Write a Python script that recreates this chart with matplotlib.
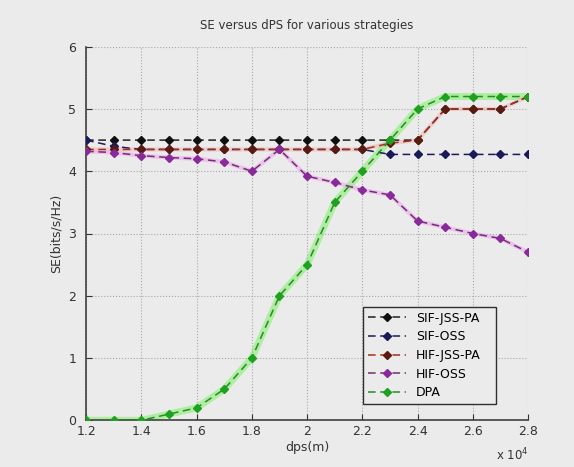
import matplotlib.pyplot as plt
import numpy as np

# dps in units of 1e4 m
dps = [1.2, 1.3, 1.4, 1.5, 1.6, 1.7, 1.8, 1.9, 2.0, 2.1, 2.2, 2.3, 2.4, 2.5, 2.6, 2.7, 2.8]

sif_jss_pa = [4.5, 4.5, 4.5, 4.5, 4.5, 4.5, 4.5, 4.5, 4.5, 4.5, 4.5, 4.5, 4.5, 5.0, 5.0, 5.0, 5.2]
sif_oss = [4.5, 4.4, 4.35, 4.35, 4.35, 4.35, 4.35, 4.35, 4.35, 4.35, 4.35, 4.27, 4.27, 4.27, 4.27, 4.27, 4.27]
hif_jss_pa = [4.35, 4.35, 4.35, 4.35, 4.35, 4.35, 4.35, 4.35, 4.35, 4.35, 4.35, 4.45, 4.5, 5.0, 5.0, 5.0, 5.2]
hif_oss = [4.32, 4.3, 4.25, 4.22, 4.2, 4.15, 4.0, 4.35, 3.92, 3.82, 3.7, 3.62, 3.2, 3.1, 3.0, 2.92, 2.7]
dpa = [0.0, 0.0, 0.0, 0.1, 0.2, 0.5, 1.0, 2.0, 2.5, 3.5, 4.0, 4.5, 5.0, 5.2, 5.2, 5.2, 5.2]

BG = '#ebebeb'

fig = plt.figure(figsize=(5.74, 4.67), dpi=100, facecolor=BG)
ax = fig.add_axes([0.15, 0.10, 0.77, 0.80], facecolor=BG)

# glow under the curves
ax.plot(dps, dpa, color='#9ef08e', lw=5, alpha=0.8, solid_capstyle='round', zorder=1)
ax.plot(dps, hif_oss, color='#f0a8f0', lw=3, alpha=0.6, zorder=1)
ax.plot(dps, hif_jss_pa, color='#f0b0a8', lw=3, alpha=0.5, zorder=1)

kw = dict(ls='--', lw=1.1, marker='D', ms=3.6, dashes=(5, 3), zorder=3)
ax.plot(dps, sif_jss_pa, color='#202020', mfc='#101010', mec='#101010', label='SIF-JSS-PA', **kw)
ax.plot(dps, sif_oss, color='#1a1a5a', mfc='#1a1a5a', mec='#1a1a5a', label='SIF-OSS', **kw)
ax.plot(dps, hif_jss_pa, color='#a03020', mfc='#5a1a10', mec='#5a1a10', label='HIF-JSS-PA', **kw)
ax.plot(dps, hif_oss, color='#703070', mfc='#8a2a9a', mec='#8a2a9a', label='HIF-OSS', **kw)
ax.plot(dps, dpa, color='#2a8a2a', mfc='#20a020', mec='#20a020', label='DPA', **kw)

ax.set_xlim(1.2, 2.8)
ax.set_ylim(0, 6)
ax.set_xticks(np.arange(1.2, 2.81, 0.2))
ax.set_xticklabels(['1.2', '1.4', '1.6', '1.8', '2', '2.2', '2.4', '2.6', '2.8'])
ax.set_yticks(range(7))
ax.tick_params(direction='in', labelsize=9, colors='#333333', length=4)
ax.tick_params(axis='y', pad=7)
ax.grid(True, ls=':', color='#a8a8a8', lw=0.8)

for s in ['top', 'right']:
    ax.spines[s].set_visible(False)
for s in ['left', 'bottom']:
    ax.spines[s].set_color('#404040')
    ax.spines[s].set_linewidth(1.2)

ax.set_title('SE versus dPS for various strategies', fontsize=8.5, color='#333333', pad=13)
ax.set_xlabel('dps(m)', fontsize=9, color='#333333', labelpad=2)
ax.set_ylabel('SE(bits/s/Hz)', fontsize=9, color='#333333', labelpad=4)
ax.text(1.0, -0.07, r'x 10$^4$', transform=ax.transAxes, ha='right', va='top',
        fontsize=8.5, color='#333333')

leg = ax.legend(loc='lower left', bbox_to_anchor=(0.627, 0.043, 0.3, 0.294),
                mode='expand', fontsize=9, frameon=True, fancybox=False,
                borderaxespad=0, handlelength=3, labelspacing=0.45)
leg.get_frame().set_edgecolor('#303030')
leg.get_frame().set_facecolor(BG)
leg.get_frame().set_alpha(1)

fig.savefig('out.png', dpi=100, facecolor=BG)
